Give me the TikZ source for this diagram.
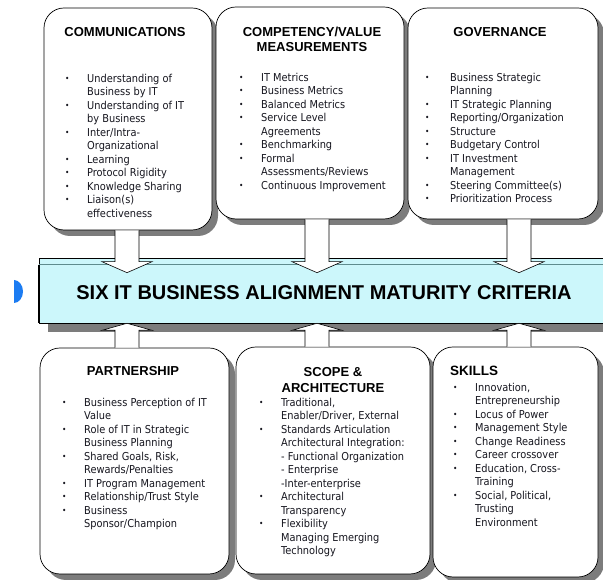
\documentclass[tikz,border=0pt]{standalone}
\usepackage{fontspec}
\setmainfont{Liberation Sans}
\newfontfamily\bodyf{DejaVu Sans Condensed}
\usetikzlibrary{calc,shadows}

\definecolor{banfill}{HTML}{CCF7FB}
\definecolor{shad}{HTML}{7C7C7C}
\definecolor{ink}{HTML}{16161F}
\definecolor{dotblue}{HTML}{1C7CF2}
\definecolor{bandline}{HTML}{5E8C8E}

% bullet column of the lists
\newlength\bulw
\setlength\bulw{22pt}
\newcommand\bulitem{\makebox[\bulw][l]{\raisebox{0.2ex}{\scalebox{0.75}{\textbullet}}}}
\newcommand\contline{\hspace*{\bulw}}

\tikzset{
  plaque/.style={draw=black, line width=0.7pt, fill=white, rounded corners=20pt,
    inner sep=0pt,
    drop shadow={shadow xshift=6pt, shadow yshift=-6pt, fill=shad, opacity=1}},
  head/.style={font=\bfseries\fontsize{13}{15}\selectfont, align=center, inner sep=0pt},
  itemlist/.style={font=\bodyf\fontsize{10.9}{13.5}\selectfont, text=ink,
    align=left, inner sep=0pt, anchor=north west},
  blk/.style={draw=black, fill=white, line width=0.6pt, line join=miter},
}

% hollow block arrow from a box down into the banner
\newcommand\downblk[2]{%
  \path[blk] let \p1=(#1.south), \p2=(banner.north) in
    (#2-12,\y1) -- (#2-12,\y2-4pt) -- (#2-25,\y2-4pt) -- (#2,\y2-15pt)
    -- (#2+25,\y2-4pt) -- (#2+12,\y2-4pt) -- (#2+12,\y1);}
% hollow block arrow from a box up to the banner
\newcommand\upblk[2]{%
  \path[blk] let \p1=(#1.north), \p2=(banner.south) in
    (#2-12,\y1) -- (#2-12,\y2-7pt) -- (#2-25,\y2-7pt) -- (#2,\y2)
    -- (#2+25,\y2-7pt) -- (#2+12,\y2-7pt) -- (#2+12,\y1);}

\begin{document}
\begin{tikzpicture}[x=1pt,y=1pt]
\useasboundingbox (0,0) rectangle (603,580);

% ---------- upper row ----------
\node[plaque, minimum width=168pt, minimum height=222pt] (comm) at (128,461) {};
\node[head] (commh) at (125,548) {COMMUNICATIONS};
\node[itemlist] (commt) at (65,506) {%
\bulitem Understanding of\\\contline Business by IT\\
\bulitem Understanding of IT\\\contline by Business\\
\bulitem Inter/Intra-\\\contline Organizational\\
\bulitem Learning\\
\bulitem Protocol Rigidity\\
\bulitem Knowledge Sharing\\
\bulitem Liaison(s)\\\contline effectiveness};

\node[plaque, minimum width=188pt, minimum height=212pt] (comp) at (310,467) {};
\node[head] (comph) at (312,540.5) {COMPETENCY/VALUE\\MEASUREMENTS};
\node[itemlist] (compt) at (239,507) {%
\bulitem IT Metrics\\
\bulitem Business Metrics\\
\bulitem Balanced Metrics\\
\bulitem Service Level\\\contline Agreements\\
\bulitem Benchmarking\\
\bulitem Formal\\\contline Assessments/Reviews\\
\bulitem Continuous Improvement};

\node[plaque, minimum width=190pt, minimum height=211pt] (gov) at (503,466.5) {};
\node[head] (govh) at (500,548) {GOVERNANCE};
\node[itemlist, font=\bodyf\fontsize{10.9}{13.5}\selectfont\setlength\bulw{25pt}] (govt) at (425,507) {%
\bulitem Business Strategic\\\contline Planning\\
\bulitem IT Strategic Planning\\
\bulitem Reporting/Organization\\
\bulitem Structure\\
\bulitem Budgetary Control\\
\bulitem IT Investment\\\contline Management\\
\bulitem Steering Committee(s)\\
\bulitem Prioritization Process};

% ---------- banner ----------
\node[draw=black, fill=banfill, line width=0.6pt, minimum width=573pt,
  minimum height=65pt, inner sep=0pt,
  drop shadow={shadow xshift=9pt, shadow yshift=-9pt, fill=shad, opacity=1}]
  (banner) at (325.5,289.5) {};
\draw[bandline, line width=0.8pt] ([yshift=-7pt]banner.north west) -- ([yshift=-7pt]banner.north east);
\draw[line width=1.4pt] ([yshift=-7pt]banner.north west) -- (banner.south west);
\node[font=\bfseries\fontsize{20}{24}\selectfont, inner sep=0pt] (title) at (324,287)
  {SIX IT BUSINESS ALIGNMENT MATURITY CRITERIA};
\fill[dotblue] (14,300) arc[start angle=90, end angle=-90, x radius=9, y radius=11.5] -- cycle;

% ---------- lower row ----------
\node[plaque, minimum width=189pt, minimum height=226pt] (part) at (134.5,119) {};
\node[head] (parth) at (133,209) {PARTNERSHIP};
\node[itemlist] (partt) at (62,182) {%
\bulitem Business Perception of IT\\\contline Value\\
\bulitem Role of IT in Strategic\\\contline Business Planning\\
\bulitem Shared Goals, Risk,\\\contline Rewards/Penalties\\
\bulitem IT Program Management\\
\bulitem Relationship/Trust Style\\
\bulitem Business\\\contline Sponsor/Champion};

\node[plaque, minimum width=194pt, minimum height=227pt] (scope) at (333,119.5) {};
\node[head, font=\bfseries\fontsize{13}{16}\selectfont] (scopeh) at (333,200) {SCOPE \&\\ARCHITECTURE};
\node[itemlist] (scopet) at (259,182) {%
\bulitem Traditional,\\\contline Enabler/Driver, External\\
\bulitem Standards Articulation\\\contline Architectural Integration:\\
\contline - Functional Organization\\\contline - Enterprise\\\contline -Inter-enterprise\\
\bulitem Architectural\\\contline Transparency\\
\bulitem Flexibility\\\contline Managing Emerging\\\contline Technology};

\node[plaque, minimum width=165pt, minimum height=230pt] (skills) at (515.5,118) {};
\node[head, font=\bfseries\fontsize{13.5}{15}\selectfont, anchor=west] (skillsh) at (450,209) {SKILLS};
\node[itemlist] (skillst) at (453,197) {%
\bulitem Innovation,\\\contline Entrepreneurship\\
\bulitem Locus of Power\\
\bulitem Management Style\\
\bulitem Change Readiness\\
\bulitem Career crossover\\
\bulitem Education, Cross-\\\contline Training\\
\bulitem Social, Political,\\\contline Trusting\\\contline Environment};

% ---------- block arrows ----------
\downblk{comm}{127}
\downblk{comp}{317}
\downblk{gov}{519}
\upblk{part}{127}
\upblk{scope}{317}
\upblk{skills}{519}
\end{tikzpicture}
\end{document}
